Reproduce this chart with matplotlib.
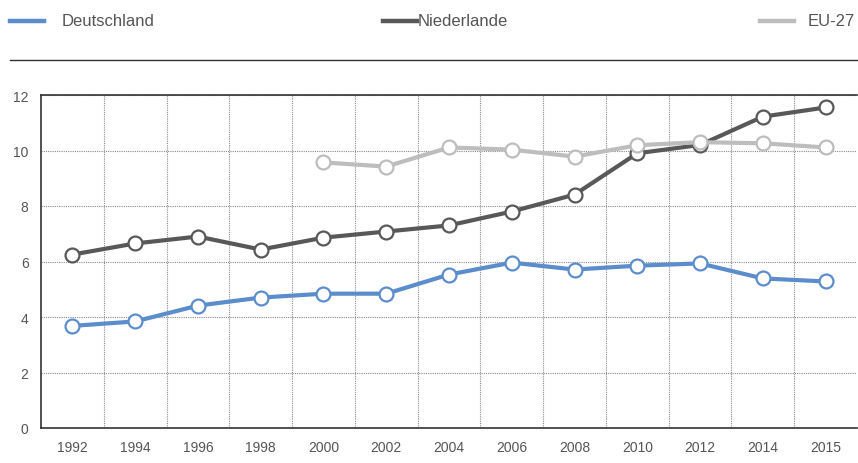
import matplotlib
matplotlib.use("Agg")
import matplotlib.pyplot as plt
import numpy as np

years = ["1992", "1994", "1996", "1998", "2000", "2002", "2004",
         "2006", "2008", "2010", "2012", "2014", "2015"]
deutschland = [3.68, 3.84, 4.41, 4.70, 4.84, 4.84, 5.53, 5.96, 5.71, 5.85, 5.93, 5.39, 5.28]
niederlande = [6.25, 6.65, 6.90, 6.43, 6.86, 7.08, 7.30, 7.80, 8.41, 9.90, 10.20, 11.22, 11.55]
eu27 = [np.nan, np.nan, np.nan, np.nan, 9.57, 9.42, 10.11, 10.03, 9.78, 10.19, 10.30, 10.26, 10.11]

series = [("Deutschland", deutschland, "#5b8dcd"),
          ("Niederlande", niederlande, "#585858"),
          ("EU-27", eu27, "#bdbdbd")]

plt.rcParams['font.family'] = ['Liberation Sans', 'DejaVu Sans']
txt = "#555555"

fig = plt.figure(figsize=(8.58, 4.64), dpi=100)
ax = fig.add_axes([41 / 858, 35 / 464, 816 / 858, 333 / 464])

x = np.arange(len(years))
for name, vals, col in series:
    ax.plot(x, vals, color=col, lw=3, marker="o", ms=10, mfc="white",
            mec=col, mew=1.6, zorder=3)

ax.set_xlim(-0.5, len(years) - 0.5)
ax.set_ylim(0, 12)
ax.set_yticks(range(0, 13, 2))
ax.set_xticks(x)
ax.set_xticklabels(years)
ax.set_xticks(x[:-1] + 0.5, minor=True)
ax.tick_params(which="both", length=0, labelsize=10, colors=txt)
ax.tick_params(axis="x", pad=9)
ax.tick_params(axis="y", pad=9)
ax.grid(False)
ax.grid(True, axis="y", which="major", ls=(0, (1, 1)), color="#8a8a8a", lw=0.8)
ax.grid(True, axis="x", which="minor", ls=(0, (1, 1)), color="#8a8a8a", lw=0.8)
for s in ["left", "bottom", "top"]:
    ax.spines[s].set_color("#333333")
    ax.spines[s].set_linewidth(1.2)
ax.spines["right"].set_visible(False)

# legend on top
leg_pos = [(10, 62), (383, 418), (760, 808)]
for (name, vals, col), (lx, tx) in zip(series, leg_pos):
    fig.add_artist(plt.Line2D([lx / 858, (lx + 34) / 858], [1 - 22 / 464] * 2,
                              color=col, lw=3.2, transform=fig.transFigure))
    fig.text(tx / 858, 1 - 22 / 464, name, fontsize=12, color=txt,
             va="center", ha="left")

fig.add_artist(plt.Line2D([10 / 858, 1], [1 - 61 / 464] * 2, color="#333333",
                          lw=1, transform=fig.transFigure))

fig.savefig("out.png", dpi=100)
